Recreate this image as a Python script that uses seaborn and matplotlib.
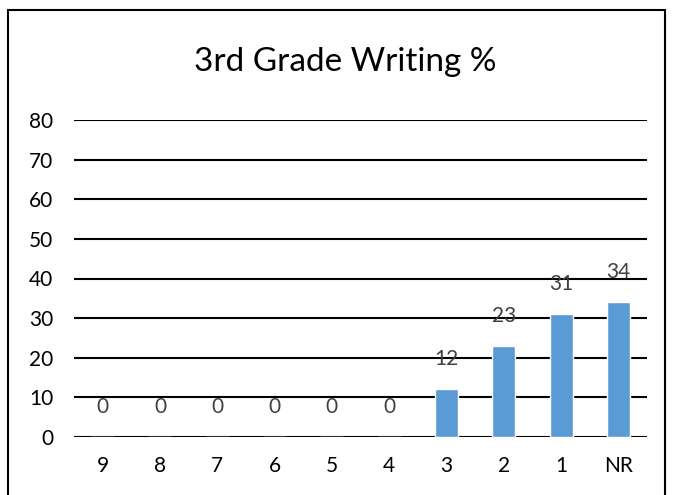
import matplotlib
matplotlib.use("Agg")
import matplotlib.pyplot as plt
from matplotlib.patches import Rectangle
import seaborn as sns
import pandas as pd

# Writing score categories and the share of students in each
categories = ["9", "8", "7", "6", "5", "4", "3", "2", "1", "NR"]
percentages = [0, 0, 0, 0, 0, 0, 12, 23, 31, 34]
y_ticks = [0, 10, 20, 30, 40, 50, 60, 70, 80]
title = "3rd Grade Writing %"

sns.set_theme(style="white")
plt.rcParams["font.family"] = ["Lato", "DejaVu Sans"]

df = pd.DataFrame({"score": categories, "pct": percentages})

fig = plt.figure(figsize=(6.73, 4.95), dpi=100)
fig.patch.set_facecolor("white")

# outer chart frame
W, H = 673, 495
fig.patches.append(Rectangle((8 / W, -0.05), (665 - 8) / W, 1.05 - 10 / H,
                             transform=fig.transFigure, fill=False,
                             edgecolor="black", linewidth=1.5, zorder=0))

ax = fig.add_axes([74 / W, 1 - 437 / H, (647 - 74) / W, (437 - 120) / H])

sns.barplot(data=df, x="score", y="pct", order=categories, color="#5B9BD5",
            width=0.4, saturation=1, ax=ax, zorder=3)

ax.set_ylim(0, 80)
ax.set_xlim(-0.5, len(categories) - 0.5)
ax.set_yticks(y_ticks)
for t in y_ticks:
    ax.axhline(t, color="black", linewidth=1.5, zorder=1)

for sp in ax.spines.values():
    sp.set_visible(False)

ax.set_xlabel("")
ax.set_ylabel("")
ax.tick_params(axis="both", length=0, labelsize=15, labelcolor="black")
ax.tick_params(axis="y", pad=15)
ax.tick_params(axis="x", pad=14)

for i, v in enumerate(percentages):
    ax.annotate(f"{v}", xy=(i, v), xytext=(0, 14.5), textcoords="offset points",
                ha="center", va="bottom", fontsize=15, color="#404040")

fig.text(345 / W, 1 - 62 / H, title, ha="center", va="center",
         fontsize=24, color="black")

fig.savefig("out.png", dpi=100)
